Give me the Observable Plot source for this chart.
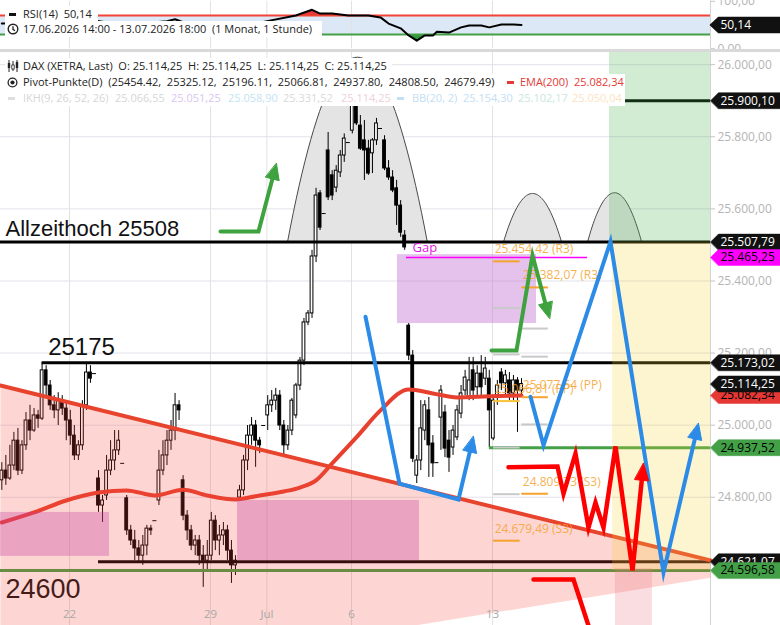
<!DOCTYPE html>
<html lang="de">
<head>
<meta charset="utf-8">
<script src="https://cdn.jsdelivr.net/npm/d3@7"></script>
<script src="https://cdn.jsdelivr.net/npm/@observablehq/plot@0.6"></script>
<style>
html,body{margin:0;padding:0;background:#fff;}
#wrap{position:relative;width:780px;height:625px;overflow:hidden;font-family:"Open Sans",sans-serif;}
#rsi,#main{position:absolute;left:0;}
#rsi{top:0;}
#main{top:52px;}
#sep{position:absolute;left:0;top:49px;width:780px;height:3px;background:#d9d9d9;}
.row{position:absolute;background:#fff;height:16px;line-height:16px;font-size:11px;white-space:pre;color:#222;}
.row .a{position:absolute;top:0;}
.ico{position:absolute;}
</style>
</head>
<body>
<div id="wrap">
 <div id="rsi"></div>
 <div id="sep"></div>
 <div id="main"></div>

 <div class="row" style="left:5px;top:6px;width:93px;">
  <span class="ico" style="left:4px;top:6.5px;width:7px;height:3px;background:#111;"></span>
  <span class="a" style="left:18px;">RSI(14)  50,14</span>
 </div>
 <div class="row" style="left:5px;top:21px;width:317px;">
  <svg class="ico" style="left:2px;top:2px" width="12" height="12"><circle cx="6" cy="6" r="4.8" fill="none" stroke="#222" stroke-width="1.4"/><path d="M6 3.2V6.3L8 7.8" fill="none" stroke="#222" stroke-width="1.3"/></svg>
  <span class="a" style="left:18px;">17.06.2026 14:00 - 13.07.2026 18:00  (1 Monat, 1 Stunde)</span>
 </div>
 <div class="row" style="left:5px;top:58px;width:387px;">
  <svg class="ico" style="left:2px;top:2px" width="12" height="12"><path d="M2 0V12M6 1V11M10 0V12" stroke="#222" stroke-width="1"/><rect x="0.8" y="3" width="2.4" height="5" fill="#222"/><rect x="4.8" y="5" width="2.4" height="4" fill="#fff" stroke="#222" stroke-width="0.8"/><rect x="8.8" y="2" width="2.4" height="6" fill="#222"/></svg>
  <span class="a" style="left:18px;">DAX (XETRA, Last)  O: 25.114,25  H: 25.114,25  L: 25.114,25  C: 25.114,25</span>
 </div>
 <div class="row" style="left:5px;top:74px;width:620px;">
  <svg class="ico" style="left:2px;top:3px" width="11" height="11"><circle cx="5.5" cy="5.5" r="4.4" fill="none" stroke="#222" stroke-width="1.3"/><circle cx="5.5" cy="5.5" r="2.1" fill="#222"/></svg>
  <span class="a" style="left:18px;">Pivot-Punkte(D)  (25454.42,  25325.12,  25196.11,  25066.81,  24937.80,  24808.50,  24679.49)</span>
  <span class="ico" style="left:502px;top:6.5px;width:7px;height:3px;background:#e53935;"></span>
  <span class="a" style="left:515px;color:#e53935;">EMA(200)  25.082,34</span>
 </div>
 <div class="row" style="left:5px;top:90px;width:620px;">
  <span class="ico" style="left:3px;top:6.5px;width:7px;height:3px;background:#dedede;"></span>
  <span class="a" style="left:18px;color:#d6d6d6;">IKH(9, 26, 52, 26)</span>
  <span class="a" style="left:110px;color:#d6d6d6;">25.066,55</span>
  <span class="a" style="left:166px;color:#d8c6ee;">25.051,25</span>
  <span class="a" style="left:223px;color:#c4e3f3;">25.058,90</span>
  <span class="a" style="left:278px;color:#d9d9d9;">25.331,52</span>
  <span class="a" style="left:336px;color:#efd0dc;">25.114,25</span>
  <span class="ico" style="left:392px;top:6.5px;width:7px;height:3px;background:#c4def3;"></span>
  <span class="a" style="left:407px;color:#c4def3;">BB(20, 2)</span>
  <span class="a" style="left:458px;color:#c4def3;">25.154,30</span>
  <span class="a" style="left:513px;color:#c9e7dc;">25.102,17</span>
  <span class="a" style="left:567px;color:#fbe3c1;">25.050,04</span>
 </div>
</div>

<script>
// ---------------- DATA ----------------
// time axis: trading days counted from Monday 22 June 2026 (=0); 7 hourly bars per day
const BARS_PER_DAY = 7;
const FIRST_BAR_DAY = -2.4;
const dayTicks  = [0, 5, 7, 10, 15];
const dayLabels = ["22", "29", "Jul", "6", "13"];
const priceTicks = [24600, 24800, 25000, 25200, 25400, 25600, 25800, 26000];

// DAX hourly candles
const opens = [24847,24874,24852,24888,24957,24874,24944,25013,24985,25027,25018,25152,25110,25055,25041,25068,25046,25013,24971,24916,24944,25055,25146,25143,24852,24777,24805,24874,24902,24930,24894,24797,24708,24680,24658,24638,24666,24713,24735,24791,24874,24916,24957,24985,25055,24847,24749,24708,24666,24680,24638,24624,24638,24735,24680,24694,24708,24652,24611,24799,24819,24902,24971,24999,24957,24999,25027,25055,25068,25082,24999,24944,24985,25027,25110,25179,25285,25310,25468,25643,25587,25762,25693,25659,25701,25748,25784,25817,25892,25831,25790,25767,25754,25790,25823,25790,25712,25687,25657,25609,25526,25276,25193,24860,24902,24985,25041,24949,24896,25021,25035,24957,24938,24966,25032,25096,25077,25152,25105,25143,25129,25129,24963,25082,25146,25116,25124,25088,25124,25096];
const highs = [24896,24916,24944,24980,24991,24957,25035,25055,25046,25041,25174,25165,25124,25082,25090,25082,25068,25041,24999,24957,25068,25174,25165,25143,24874,24805,24916,24957,24985,24985,24894,24805,24722,24708,24680,24694,24722,24722,24735,24930,24957,24985,25013,25088,25068,24860,24763,24722,24694,24694,24666,24680,24758,24749,24722,24730,24722,24680,24638,24833,24916,24999,25021,25013,24966,24999,25082,25096,25102,25096,25013,24999,25074,25116,25188,25296,25318,25485,25657,25651,25587,25812,25706,25720,25762,25808,25784,25914,25914,25859,25845,25790,25795,25851,25823,25803,25734,25706,25679,25623,25540,25282,25207,24916,25068,25068,25077,24971,24896,25110,25055,24985,24999,25055,25110,25152,25188,25188,25165,25193,25188,25152,25082,25124,25157,25152,25146,25138,25132,25129];
const lows = [24819,24833,24847,24874,24860,24863,24930,24957,24980,24991,25013,25082,25041,25018,24999,25027,24957,24944,24902,24902,24930,25041,25116,25143,24758,24730,24791,24860,24874,24916,24894,24694,24666,24624,24619,24611,24638,24694,24735,24777,24860,24888,24930,24957,25013,24735,24680,24652,24638,24611,24550,24597,24624,24652,24638,24666,24624,24561,24583,24791,24805,24874,24944,24883,24921,24999,24985,25035,25041,24985,24916,24930,24971,25018,25096,25165,25276,25296,25451,25540,25587,25623,25623,25645,25687,25729,25784,25808,25831,25762,25679,25693,25698,25776,25823,25706,25679,25645,25554,25521,25485,25179,24896,24838,24874,24957,24855,24855,24896,24930,24910,24869,24916,24957,25018,25082,25068,25068,25082,25082,25110,24938,24957,25055,25096,25082,25068,25068,24980,25082];
const closes = [24874,24852,24888,24957,24874,24944,25013,24985,25027,25018,25152,25110,25055,25041,25068,25046,25013,24971,24916,24944,25055,25146,25129,25143,24777,24791,24874,24902,24930,24957,24894,24708,24680,24658,24638,24666,24713,24708,24735,24874,24916,24957,24985,25055,25041,24749,24708,24666,24680,24638,24624,24638,24735,24680,24694,24708,24652,24611,24624,24819,24902,24971,24999,24957,24944,24999,25055,25068,25082,24999,24944,24985,25068,25110,25179,25285,25310,25468,25637,25548,25587,25632,25637,25706,25748,25795,25784,25892,25837,25767,25762,25698,25790,25837,25823,25712,25687,25651,25609,25534,25493,25193,24907,24902,24991,25055,24944,24894,24896,25096,24935,24910,24985,25041,25088,25132,25124,25096,25143,25105,25157,25041,25068,25110,25116,25138,25088,25124,25096,25114.25];

// EMA(200), read at selected bars
const emaBars   = [0, 8, 16, 24, 31, 38, 45, 51, 58, 64, 70, 74, 78, 82, 88, 94, 101, 107, 113, 121, 129];
const emaValues = [24730, 24758, 24791, 24813, 24819, 24805, 24821, 24805, 24794, 24805, 24816, 24827, 24847, 24894, 24966, 25041, 25099, 25088, 25077, 25080, 25082.34];

// RSI(14), read at selected bars
const rsiBars   = [0, 12, 21, 30, 41, 43, 50, 58, 64, 73, 77, 79, 82, 86, 91, 94, 96, 99, 101, 103, 105, 107, 108, 111, 114, 116, 119, 121, 124, 127, 129];
const rsiValues = [53, 55, 62, 50, 58, 62, 40, 38, 55, 70, 82, 74, 74, 70, 70, 66, 53, 43, 28, 17, 28, 28, 36, 34, 45, 49, 49, 45, 51, 51, 50.14];
const rsiLevels = [30, 70];

// horizontal levels
const levelValues = [25507.79, 25173.02, 24621.07, 24596.58, 24937.52, 25900.10];
const levelStartDays = [-2.45, -0.97, 1.03, -2.45, 14.89, 19.43];

// pivot points (day 13 Jul and projection 14 Jul)
const pivotKinds = ["R3", "R2", "R1", "PP", "S1", "S2", "S3"];
const pivotDays  = [15, 16];
const pivotDay1  = [25454.42, 25325.12, 25196.11, 25066.81, 24937.80, 24808.50, 24679.49];
const pivotDay2  = [25382.07, 25268, 25190, 25077.54, 25002, null, 24809.73];

// zones
const gapLevel = 25465.25;
const gapLineDays = [11.95, 18.37];
const gapBox = {t1: 11.63, t2: 16.56, p1: 25282, p2: 25473};
const demandT1 = [-2.45, 5.96];
const demandT2 = [1.42, 12.41];
const demandP1 = [24636, 24624];
const demandP2 = [24758, 24791];
const targetGreen  = {t1: 19.15, p1: 25507.79};
const targetYellow = {t1: 19.26, p1: 24596.58, p2: 25507.79};
const targetPink   = {t1: 19.36, t2: 20.67, p2: 24602};

// descending trend wedge
const trendDays   = [-2.45, 22.73];
const trendPrices = [25110, 24625];
const wedgeLowDays   = [22.73, 12.23];
const wedgeLowPrices = [24577, 24444];

// arches (cup / head shapes)
const archCenters = [10.21, 16.42, 19.33];
const archHalfWidths = [2.48, 1.03, 0.96];
const archHeights = [513, 135, 137];
const archBase = 25507.79;

// scenario arrows [day, price]
const arrowGreenRise = [[5.355, 25537], [6.702, 25537], [7.34, 25726]];
const arrowGreenTurn = [[14.965, 25207], [15.851, 25207], [16.418, 25471], [17.021, 25296]];
const arrowBlueRebound = [[10.496, 25301], [11.702, 24838], [13.794, 24794], [14.326, 24969]];
const arrowBlueZigzag = [[16.348, 25079], [16.809, 24944], [19.184, 25509], [21.064, 24591], [22.305, 25005]];
const arrowRedZigzag = [[15.567, 24883], [17.305, 24885], [17.518, 24810], [17.943, 24921], [18.404, 24716], [18.652, 24785], [18.936, 24716], [19.362, 24941], [19.965, 24597], [20.355, 24894]];
const lineRedDrop = [[16.454, 24572], [17.872, 24572], [18.404, 24444]];

// price tags on the right axis
const tagValues = [25900.10, 25507.79, 25465.25, 25082.34, 25173.02, 25114.25, 24937.52, 24621.07, 24596.58];
const rsiTagValue = 50.14;

// ---------------- STYLES ----------------
const tagFill = ["#111", "#111", "#ff00ff", "#e53935", "#111", "#111", "#43a047", "#111", "#43a047"];
const tagInk  = ["#fff", "#fff", "#000", "#000", "#fff", "#fff", "#000", "#fff", "#000"];
const levelColor = ["#000", "#000", "#000", "#43a047", "#43a047", "#000"];

// ---------------- SCALES ----------------
const X_DOMAIN = [-2.4468, 25.2128];
const AXIS_T = 22.73;
const Y_DOMAIN = [24444.25, 26033.8];
const W = 780, H = 573, RSI_H = 49;
const xs = d3.scaleLinear(X_DOMAIN, [0, W]);
const ys = d3.scaleLinear(Y_DOMAIN, [H, 0]);
const px = n => n * (X_DOMAIN[1] - X_DOMAIN[0]) / W;
const tBar = i => FIRST_BAR_DAY + i / BARS_PER_DAY;
const fmt = d3.formatLocale({decimal: ",", thousands: ".", grouping: [3], currency: ["", ""]}).format(",.2f");

const candles = opens.map((o, i) => ({t: tBar(i), o, h: highs[i], l: lows[i], c: closes[i]}));
const bodies = candles.filter(d => d.o !== d.c);
const dojis = candles.filter(d => d.o === d.c);
const ema = emaBars.map((b, i) => ({t: tBar(b), v: emaValues[i]}));

function archRows() {
  const rows = [];
  archCenters.forEach((c, a) => {
    for (let k = 0; k <= 48; k++) {
      const u = -1 + 2 * k / 48;
      rows.push({id: a, t: c + u * archHalfWidths[a], p: archBase + archHeights[a] * (1 - u * u)});
    }
  });
  return rows;
}

function tagShape(v, yScale, hh) {
  const y = yScale(v), x0 = xs(AXIS_T);
  return [[x0, y], [x0 + 8, y - hh], [W + 2, y - hh], [W + 2, y + hh], [x0 + 8, y + hh]]
    .map(([x, yy]) => ({t: xs.invert(x), p: yScale.invert(yy)}));
}

function arrowMarks(pts, color, width, headLen, headW, withHead = true) {
  const P = pts.map(([t, p]) => [xs(t), ys(p)]);
  let lineP = P, tri = null;
  if (withHead) {
    const n = P.length, [tx, ty] = P[n - 1], [qx, qy] = P[n - 2];
    const L = Math.hypot(tx - qx, ty - qy), ux = (tx - qx) / L, uy = (ty - qy) / L;
    const bx = tx - ux * headLen, by = ty - uy * headLen;
    lineP = P.slice(0, n - 1).concat([[bx + ux * 3, by + uy * 3]]);
    tri = [[tx, ty], [bx - uy * headW / 2, by + ux * headW / 2], [bx + uy * headW / 2, by - ux * headW / 2]];
  }
  const inv = a => a.map(([x, y]) => ({t: xs.invert(x), p: ys.invert(y)}));
  const m = [Plot.line(inv(lineP), {x: "t", y: "p", stroke: color, strokeWidth: width, strokeLinejoin: "miter", strokeMiterlimit: 6, curve: "linear"})];
  if (tri) m.push(Plot.line(inv(tri), {x: "t", y: "p", fill: color, stroke: color, strokeWidth: 1, curve: "linear-closed"}));
  return m;
}

function clipAt(ts, vs, thr, above) {
  const out = [];
  for (let i = 0; i < ts.length; i++) {
    if (i > 0) {
      const a = vs[i - 1] - thr, b = vs[i] - thr;
      if (a * b < 0) { const f = a / (a - b); out.push({t: ts[i - 1] + f * (ts[i] - ts[i - 1]), v: thr}); }
    }
    out.push({t: ts[i], v: above ? Math.max(vs[i], thr) : Math.min(vs[i], thr)});
  }
  return out;
}

// ---------------- MAIN CHART ----------------
const levels = levelValues.map((v, i) => ({v, t1: levelStartDays[i], color: levelColor[i]}));
const pivotRows = [];
[pivotDay1, pivotDay2].forEach((vals, d) => vals.forEach((v, k) => {
  if (v == null) return;
  const kind = pivotKinds[k];
  const major = kind === "R3" || kind === "PP" || kind === "S3";
  pivotRows.push({v, kind, major, t1: pivotDays[d] + 0.04, t2: pivotDays[d] + 0.98,
    color: major ? (d === 0 && kind === "PP" ? "#f7c23a" : "#f6a22c") : "#c9c9c9"});
}));
const wedge = [
  {t: trendDays[0], p: trendPrices[0]}, {t: trendDays[1], p: trendPrices[1]},
  {t: wedgeLowDays[0], p: wedgeLowPrices[0]}, {t: wedgeLowDays[1], p: wedgeLowPrices[1]},
  {t: trendDays[0], p: Y_DOMAIN[0]}
];
const demand = demandT1.map((t1, i) => ({t1, t2: demandT2[i], p1: demandP1[i], p2: demandP2[i]}));

const tagMarks = [];
tagValues.forEach((v, i) => {
  tagMarks.push(Plot.line(tagShape(v, ys, 8), {x: "t", y: "p", fill: tagFill[i], stroke: tagFill[i], strokeWidth: 0.5, curve: "linear-closed"}));
  tagMarks.push(Plot.text([v], {x: AXIS_T, y: d => d, text: d => fmt(d), dx: 10, textAnchor: "start", fill: tagInk[i], fontSize: 12}));
});

const main = Plot.plot({
  width: W, height: H, marginTop: 0, marginBottom: 0, marginLeft: 0, marginRight: 0,
  x: {domain: X_DOMAIN, axis: null},
  y: {domain: Y_DOMAIN, axis: null},
  style: {fontFamily: "Open Sans, sans-serif", background: "transparent", overflow: "hidden"},
  marks: [
    Plot.ruleY(priceTicks, {y: d => d, x1: X_DOMAIN[0], x2: AXIS_T, stroke: "#e2e2ea", strokeWidth: 1}),
    Plot.ruleX(dayTicks, {x: d => d, stroke: "#e2e2e2", strokeWidth: 1}),
    Plot.ruleX([AXIS_T], {x: d => d, stroke: "#d4d4d4"}),
    Plot.ruleY(priceTicks, {y: d => d, x1: AXIS_T, x2: AXIS_T + px(5), stroke: "#c4c4c4"}),
    Plot.text(priceTicks, {x: AXIS_T, y: d => d, text: d => fmt(d), dx: 7, textAnchor: "start", fill: "#b4b4b4", fontSize: 12}),
    // arches
    Plot.line(archRows(), {x: "t", y: "p", z: "id", fill: "#e4e4e4", stroke: "#4a4a4a", strokeWidth: 1, curve: "linear"}),
    // gap box
    Plot.rect([gapBox], {x1: "t1", x2: "t2", y1: "p1", y2: "p2", fill: "rgb(196,120,210)", fillOpacity: 0.45}),
    // candles
    Plot.ruleX(candles, {x: "t", y1: "l", y2: "h", stroke: "#000", strokeWidth: 1}),
    Plot.rect(bodies, {x1: d => d.t - px(1.4), x2: d => d.t + px(1.4), y1: "o", y2: "c", fill: d => d.c > d.o ? "#fff" : "#000", stroke: "#000", strokeWidth: 1}),
    Plot.ruleY(dojis, {y: "c", x1: d => d.t - px(2), x2: d => d.t + px(2), stroke: "#000", strokeWidth: 1}),
    // EMA
    Plot.line(ema, {x: "t", y: "v", stroke: "#e8402f", strokeWidth: 4, curve: "monotone-x"}),
    // horizontal levels
    Plot.ruleY(levels, {y: "v", x1: "t1", x2: AXIS_T, stroke: "color", strokeWidth: 3}),
    // big labels
    Plot.text([levelValues[0]], {x: X_DOMAIN[0], y: d => d, text: d => "Allzeithoch " + Math.round(d), dx: 5, dy: -6, lineAnchor: "bottom", textAnchor: "start", fontSize: 22, fontFamily: "Liberation Sans, Arial, sans-serif", fill: "#111"}),
    Plot.text([levelValues[1]], {x: levelStartDays[1], y: d => d, text: () => "25175", dx: 6, dy: -8, lineAnchor: "bottom", textAnchor: "start", fontSize: 24, fontFamily: "Liberation Sans, Arial, sans-serif", fill: "#111"}),
    Plot.text([levelValues[3]], {x: X_DOMAIN[0], y: d => d, text: () => "24600", dx: 5, dy: 27, lineAnchor: "bottom", textAnchor: "start", fontSize: 27, fontFamily: "Liberation Sans, Arial, sans-serif", fill: "#111"}),
    // wedge
    Plot.line(wedge, {x: "t", y: "p", fill: "rgb(244,67,54)", fillOpacity: 0.22, stroke: "none", curve: "linear-closed"}),
    Plot.rect(demand, {x1: "t1", x2: "t2", y1: "p1", y2: "p2", fill: "rgb(200,60,160)", fillOpacity: 0.33}),
    Plot.line(trendDays.map((t, i) => ({t, p: trendPrices[i]})), {x: "t", y: "p", stroke: "#e8432d", strokeWidth: 4}),
    // pivots
    Plot.ruleY(pivotRows, {y: "v", x1: "t1", x2: "t2", stroke: "color", strokeWidth: 2}),
    Plot.text(pivotRows.filter(d => d.major), {x: "t1", y: "v", text: d => fmt(d.v) + " (" + d.kind + ")", dx: 1, dy: -12, textAnchor: "start", fill: "#f5a12c", fillOpacity: 0.85, fontSize: 12}),
    // gap line
    Plot.ruleY([gapLevel], {y: d => d, x1: gapLineDays[0], x2: gapLineDays[1], stroke: "#ff00ff", strokeWidth: 1.5}),
    Plot.text([gapLevel], {x: gapLineDays[0], y: d => d, text: () => "Gap", dx: 6, dy: -5, lineAnchor: "bottom", textAnchor: "start", fill: "#e316e3", fontSize: 13}),
    // target zones
    Plot.rect([targetGreen], {x1: "t1", x2: AXIS_T, y1: "p1", y2: Y_DOMAIN[1], fill: "rgb(76,175,80)", fillOpacity: 0.25}),
    Plot.rect([targetYellow], {x1: "t1", x2: AXIS_T, y1: "p1", y2: "p2", fill: "rgb(246,207,51)", fillOpacity: 0.23}),
    Plot.rect([targetPink], {x1: "t1", x2: "t2", y1: Y_DOMAIN[0], y2: "p2", fill: "rgb(235,120,130)", fillOpacity: 0.25}),
    // arrows
    ...arrowMarks(arrowGreenRise, "#3ea23e", 4, 16, 14),
    ...arrowMarks(arrowGreenTurn, "#3ea23e", 4, 16, 14),
    ...arrowMarks(arrowBlueRebound, "#2b8be6", 4, 16, 14),
    ...arrowMarks(arrowBlueZigzag, "#2b8be6", 4, 16, 14),
    ...arrowMarks(arrowRedZigzag, "#ff0000", 4.5, 17, 14),
    ...arrowMarks(lineRedDrop, "#ff0000", 4.5, 0, 0, false),
    // tags
    ...tagMarks,
    // date labels
    Plot.text(dayTicks, {x: d => d, text: (d, i) => dayLabels[i], frameAnchor: "bottom", dy: -8, fill: "#a8a8a8", fontSize: 11.5})
  ]
});
document.getElementById("main").appendChild(main);

// ---------------- RSI PANEL ----------------
const rsiT = rsiBars.map(tBar);
const rsiRows = rsiT.map((t, i) => ({t, v: rsiValues[i]}));
const ysR = d3.scaleLinear([0, 100], [RSI_H - 0.75, 0.75]);
const rsiPanel = Plot.plot({
  width: W, height: RSI_H, marginTop: 0.75, marginBottom: 0.75, marginLeft: 0, marginRight: 0,
  x: {domain: X_DOMAIN, axis: null},
  y: {domain: [0, 100], axis: null},
  style: {fontFamily: "Open Sans, sans-serif", background: "transparent", overflow: "hidden"},
  marks: [
    Plot.rect([rsiLevels], {x1: X_DOMAIN[0], x2: AXIS_T, y1: d => d[0], y2: d => d[1], fill: "#dce8f5"}),
    Plot.ruleX(dayTicks, {x: d => d, stroke: "#e2e2e2"}),
    Plot.areaY(clipAt(rsiT, rsiValues, rsiLevels[1], true), {x: "t", y1: rsiLevels[1], y2: "v", fill: "#e53935"}),
    Plot.areaY(clipAt(rsiT, rsiValues, rsiLevels[0], false), {x: "t", y1: rsiLevels[0], y2: "v", fill: "#2e9a3a"}),
    Plot.ruleY([rsiLevels[1]], {y: d => d, x1: X_DOMAIN[0], x2: AXIS_T, stroke: "#f44336", strokeWidth: 2}),
    Plot.ruleY([rsiLevels[0]], {y: d => d, x1: X_DOMAIN[0], x2: AXIS_T, stroke: "#43a047", strokeWidth: 2}),
    Plot.line(rsiRows, {x: "t", y: "v", stroke: "#000", strokeWidth: 2}),
    Plot.ruleX([AXIS_T], {x: d => d, stroke: "#d4d4d4"}),
    Plot.ruleY([0, 100], {y: d => d, x1: AXIS_T, x2: AXIS_T + px(5), stroke: "#c4c4c4"}),
    Plot.text([0, 100], {x: AXIS_T, y: d => d, text: d => fmt(d), dx: 7, textAnchor: "start", fill: "#b4b4b4", fontSize: 12}),
    Plot.line(tagShape(rsiTagValue, ysR, 7.5), {x: "t", y: "p", fill: "#111", stroke: "#111", curve: "linear-closed"}),
    Plot.text([rsiTagValue], {x: AXIS_T, y: d => d, text: d => fmt(d), dx: 10, textAnchor: "start", fill: "#fff", fontSize: 12})
  ]
});
document.getElementById("rsi").appendChild(rsiPanel);
</script>
</body>
</html>
